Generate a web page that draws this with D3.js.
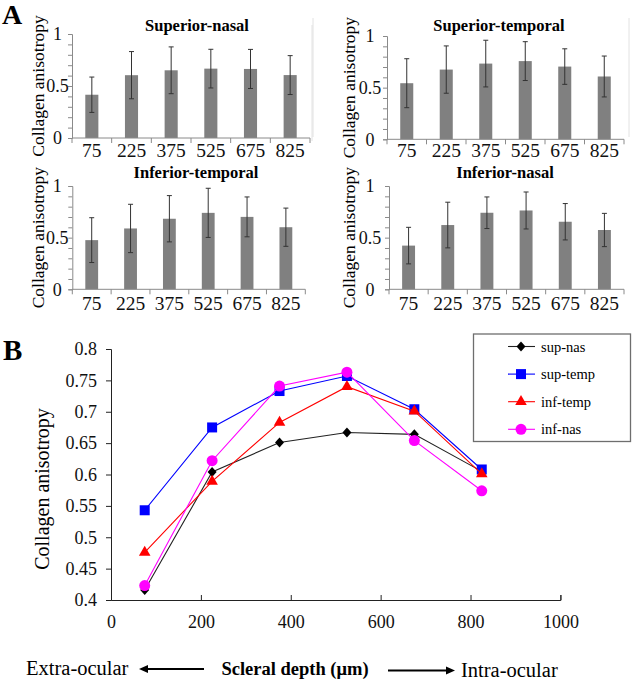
<!DOCTYPE html>
<html><head><meta charset="utf-8">
<script src="https://cdn.jsdelivr.net/npm/d3@7"></script>
<style>
html,body{margin:0;padding:0;background:#fff;}
svg{display:block;}
svg text{font-family:"Liberation Serif","Times New Roman",Times,serif !important;}
</style></head>
<body>
<svg id="c" width="633" height="680"></svg>
<script>
// ---------- DATA ----------
const depths = [75, 225, 375, 525, 675, 825];
const depthLabels = ["75", "225", "375", "525", "675", "825"];
const supNas  = [0.416, 0.604, 0.651, 0.667, 0.664, 0.605];
const supTemp = [0.543, 0.675, 0.733, 0.757, 0.704, 0.608];
const infTemp = [0.476, 0.589, 0.683, 0.740, 0.701, 0.601];
const infNas  = [0.423, 0.622, 0.741, 0.763, 0.654, 0.574];
const supNasSD  = [0.170, 0.227, 0.225, 0.186, 0.188, 0.187];
const supTempSD = [0.237, 0.229, 0.226, 0.188, 0.172, 0.198];
const infTempSD = [0.217, 0.234, 0.224, 0.238, 0.193, 0.185];
const infNasSD  = [0.177, 0.221, 0.153, 0.179, 0.176, 0.161];
const panelTitles = ["Superior-nasal", "Superior-temporal", "Inferior-temporal", "Inferior-nasal"];
const seriesNames = ["sup-nas", "sup-temp", "inf-temp", "inf-nas"];
const barTicks = [0, 0.1, 0.2, 0.3, 0.4, 0.5, 0.6, 0.7, 0.8, 0.9, 1];
const barTickLabels = [0, 0.5, 1];
const lineYTicks = [0.4, 0.45, 0.5, 0.55, 0.6, 0.65, 0.7, 0.75, 0.8];
const lineXTicks = [0, 200, 400, 600, 800, 1000];
const yLabel = "Collagen anisotropy";
const xLabel = "Scleral depth (\u03bcm)";

// ---------- LAYOUT ----------
const FONT = "'Liberation Serif','Times New Roman',Times,serif";
const svg = d3.select("#c").attr("font-family", FONT);
const panelMeans = [supNas, supTemp, infTemp, infNas];
const panelSDs = [supNasSD, supTempSD, infTempSD, infNasSD];
const layout = [
  {x0: 72,  x1: 310, yZero: 138,   yOne: 34,  tx: 197, ty: 31,  lx: 37.5, tdx: 14.5, xdy: 18.5},
  {x0: 387, x1: 624, yZero: 139.3, yOne: 36,  tx: 499, ty: 31,  lx: 348.5, tdx: 17, xdy: 17.8},
  {x0: 72.3, x1: 305.3, yZero: 289.3, yOne: 186, tx: 196, ty: 178, lx: 37.5, tdx: 15, xdy: 20.5},
  {x0: 389, x1: 624, yZero: 289.3, yOne: 186, tx: 505, ty: 178, lx: 349, tdx: 19, xdy: 20.5}
];
const axisGray = "#8a8a8a";

// faint chart-area borders
[[312, 25, 312, 141], [313, 18, 313, 137], [629, 18, 629, 137]].forEach(l => {
  svg.append("line").attr("x1", l[0]).attr("y1", l[1]).attr("x2", l[2]).attr("y2", l[3])
    .attr("stroke", "#e2e2e2").attr("stroke-width", 1);
});

layout.forEach((L, i) => {
  const g = svg.append("g");
  const x = d3.scaleBand().domain(depthLabels).range([L.x0, L.x1]).padding(0);
  const y = d3.scaleLinear().domain([0, 1]).range([L.yZero, L.yOne]);
  const bw = x.bandwidth() * 0.33;
  const means = panelMeans[i], sds = panelSDs[i];

  g.selectAll("rect.bar").data(depthLabels).enter().append("rect")
    .attr("x", d => x(d) + x.bandwidth() / 2 - bw / 2)
    .attr("y", (d, j) => y(means[j]))
    .attr("width", bw)
    .attr("height", (d, j) => y(0) - y(means[j]))
    .attr("fill", "#808080");

  const eb = g.selectAll("g.eb").data(depthLabels).enter().append("g");
  eb.append("line")
    .attr("x1", d => x(d) + x.bandwidth() / 2).attr("x2", d => x(d) + x.bandwidth() / 2)
    .attr("y1", (d, j) => y(means[j] + sds[j])).attr("y2", (d, j) => y(means[j] - sds[j]))
    .attr("stroke", "#333").attr("stroke-width", 1);
  [1, -1].forEach(s => {
    eb.append("line")
      .attr("x1", d => x(d) + x.bandwidth() / 2 - 2.5).attr("x2", d => x(d) + x.bandwidth() / 2 + 2.5)
      .attr("y1", (d, j) => y(means[j] + s * sds[j])).attr("y2", (d, j) => y(means[j] + s * sds[j]))
      .attr("stroke", "#333").attr("stroke-width", 1);
  });

  const ya = g.append("g").attr("transform", `translate(${L.x0},0)`)
    .call(d3.axisLeft(y).tickValues(barTicks).tickSize(4).tickFormat(""));
  ya.selectAll("path,line").attr("stroke", axisGray);
  g.selectAll("text.ytl").data(barTickLabels).enter().append("text")
    .attr("x", L.x0 - L.tdx).attr("y", d => y(d)).attr("dy", "0.35em")
    .attr("text-anchor", "middle").attr("font-size", "18px").attr("fill", "#111")
    .text(d => d);

  g.append("line").attr("x1", L.x0).attr("x2", L.x1).attr("y1", y(0)).attr("y2", y(0))
    .attr("stroke", axisGray);
  const bounds = depthLabels.map(d => x(d)).concat([x(depthLabels[depthLabels.length - 1]) + x.bandwidth()]);
  g.selectAll("line.xt").data(bounds).enter().append("line")
    .attr("x1", d => d).attr("x2", d => d).attr("y1", y(0)).attr("y2", y(0) + 5)
    .attr("stroke", axisGray);
  g.selectAll("text.xtl").data(depthLabels).enter().append("text")
    .attr("x", d => x(d) + x.bandwidth() / 2).attr("y", y(0) + L.xdy)
    .attr("text-anchor", "middle").attr("font-size", "19.5px").attr("fill", "#111")
    .text(d => d);

  g.append("text").attr("x", L.tx).attr("y", L.ty).attr("text-anchor", "middle")
    .attr("font-size", "16.5px").attr("font-weight", "bold").text(panelTitles[i]);
  g.append("text").attr("transform", `translate(${L.lx},${(L.yZero + L.yOne) / 2}) rotate(-90)`)
    .attr("text-anchor", "middle").attr("dy", "0.35em").attr("font-size", "17.5px")
    .text(yLabel);
});

svg.append("text").attr("x", 2).attr("y", 23.5).attr("font-size", "28px").attr("font-weight", "bold").text("A");
svg.append("text").attr("x", 3).attr("y", 360).attr("font-size", "29px").attr("font-weight", "bold").text("B");

// ---------- PANEL B ----------
const bx = d3.scaleLinear().domain([0, 1000]).range([111, 560.4]);
const by = d3.scaleLinear().domain([0.4, 0.8]).range([600, 349]);
const gB = svg.append("g");
const yAx = gB.append("g").attr("transform", `translate(${bx(0)},0)`)
  .call(d3.axisLeft(by).tickValues(lineYTicks).tickSize(5).tickPadding(9)
    .tickFormat(d => String(+d.toFixed(2))));
const xAx = gB.append("g").attr("transform", `translate(0,${by(0.4)})`)
  .call(d3.axisBottom(bx).tickValues(lineXTicks).tickSize(-5).tickPadding(15).tickFormat(d => d));
[yAx, xAx].forEach(a => {
  a.attr("font-family", FONT);
  a.select(".domain").attr("stroke", "#222");
  a.selectAll("line").attr("stroke", "#222");
  a.selectAll("text").attr("font-size", "18px").attr("fill", "#111");
});
gB.append("text").attr("transform", `translate(41.5,489) rotate(-90)`)
  .attr("text-anchor", "middle").attr("dy", "0.35em").attr("font-size", "20px").text(yLabel);

const seriesVals = [supNas, supTemp, infTemp, infNas];
const colors = ["#000000", "#0000ff", "#ff0000", "#ff00ff"];
const lineColors = ["#222222", "#0000ff", "#ff0000", "#ff00ff"];
const shapes = [
  "M0,-5L4.5,0L0,5L-4.5,0Z",
  d3.symbol(d3.symbolSquare, 100)(),
  d3.symbol(d3.symbolTriangle, 58)(),
  d3.symbol(d3.symbolCircle, 95)()
];
const line = d3.line().x((d, j) => bx(depths[j])).y(d => by(d));
seriesVals.forEach((vals, k) => {
  gB.append("path").datum(vals).attr("d", line).attr("fill", "none")
    .attr("stroke", lineColors[k]).attr("stroke-width", 1.1);
  gB.selectAll(null).data(vals).enter().append("path")
    .attr("d", shapes[k])
    .attr("transform", (d, j) => `translate(${bx(depths[j])},${by(d)})`)
    .attr("fill", colors[k]);
});

const lg = svg.append("g");
lg.append("rect").attr("x", 473.5).attr("y", 334).attr("width", 157).attr("height", 107.5)
  .attr("fill", "#fff").attr("stroke", "#6e6e6e").attr("stroke-width", 1.3);
seriesNames.forEach((n, k) => {
  const yy = 346.5 + k * 27.6;
  lg.append("line").attr("x1", 508).attr("x2", 535).attr("y1", yy).attr("y2", yy)
    .attr("stroke", lineColors[k]).attr("stroke-width", 1.1);
  lg.append("path").attr("d", shapes[k]).attr("transform", `translate(521,${yy})`).attr("fill", colors[k]);
  lg.append("text").attr("x", 541).attr("y", yy).attr("dy", "0.35em").attr("font-size", "14.5px").text(n);
});

const cap = svg.append("g");
cap.append("text").attr("x", 26).attr("y", 674.5).attr("font-size", "20.5px").text("Extra-ocular");
cap.append("text").attr("x", 295).attr("y", 674.5).attr("text-anchor", "middle")
  .attr("font-size", "18.5px").attr("font-weight", "bold").text(xLabel);
cap.append("text").attr("x", 461).attr("y", 676.5).attr("font-size", "20.5px").text("Intra-ocular");
cap.append("line").attr("x1", 146).attr("x2", 204).attr("y1", 669).attr("y2", 669).attr("stroke", "#000").attr("stroke-width", 2);
cap.append("path").attr("d", "M139,669L148,665L148,673Z").attr("fill", "#000");
cap.append("line").attr("x1", 388).attr("x2", 447).attr("y1", 670.5).attr("y2", 670.5).attr("stroke", "#000").attr("stroke-width", 2);
cap.append("path").attr("d", "M455,670.5L446,666.5L446,674.5Z").attr("fill", "#000");

svg.selectAll("text").attr("font-family", FONT);
</script>
</body></html>
